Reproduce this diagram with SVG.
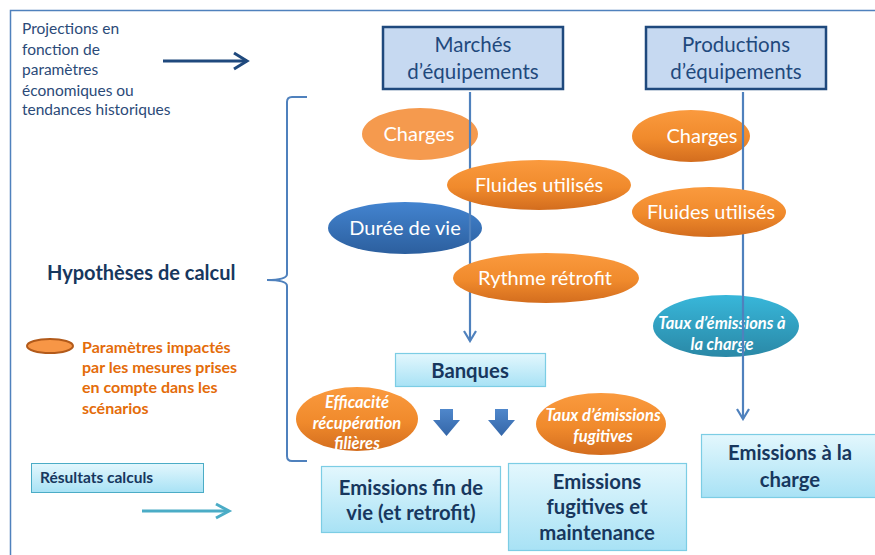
<svg xmlns="http://www.w3.org/2000/svg" width="875" height="555" viewBox="0 0 875 555">
<defs>
<linearGradient id="gOr" x1="0" y1="0" x2="0" y2="1"><stop offset="0" stop-color="#fa9a3e"/><stop offset="0.55" stop-color="#f08a2c"/><stop offset="1" stop-color="#d36d1e"/></linearGradient>
<linearGradient id="gBl" x1="0" y1="0" x2="0" y2="1"><stop offset="0" stop-color="#4384d0"/><stop offset="1" stop-color="#2c5f9e"/></linearGradient>
<linearGradient id="gTe" x1="0" y1="0" x2="0" y2="1"><stop offset="0" stop-color="#38b7da"/><stop offset="1" stop-color="#2a88a6"/></linearGradient>
<linearGradient id="gBox" x1="0" y1="0" x2="0" y2="1"><stop offset="0" stop-color="#e3f7fd"/><stop offset="1" stop-color="#a8e2f5"/></linearGradient>
<linearGradient id="gArr" x1="0" y1="0" x2="0" y2="1"><stop offset="0" stop-color="#4f87cb"/><stop offset="1" stop-color="#3466a8"/></linearGradient>
<marker id="vArr" viewBox="0 0 14 14" refX="12" refY="7" markerWidth="14" markerHeight="14" markerUnits="userSpaceOnUse" orient="auto">
<path d="M2,1 L12,7 L2,13" fill="none" stroke="#4f81bd" stroke-width="2.2"/>
</marker>
</defs>
<style>
text{font-family:Lato,"Liberation Sans",sans-serif}
.proj{font-size:15.5px;fill:#2b4a78}
.hd{fill:#c6d9f1;stroke:#1f497d;stroke-width:2.5}
.hdt{font-size:20.5px;fill:#1f497d;text-anchor:middle}
.ew{fill:#fff;font-size:20px;text-anchor:middle}
.ei{fill:#fff;font-size:16.5px;font-weight:bold;font-style:italic;text-anchor:middle}
.res{fill:url(#gBox);stroke:#7ccde4;stroke-width:1.2}
.rt{fill:#17375e;font-size:20.3px;font-weight:bold;text-anchor:middle}
.conn{fill:none;stroke:#4f81bd;stroke-width:2.2}
.leg{fill:#e46c0a;font-size:16px;font-weight:bold}
</style>
<rect x="0" y="0" width="875" height="555" fill="#fff"/>
<path d="M10.5,555 L10.5,10.5 L875,10.5" fill="none" stroke="#4f81bd" stroke-width="1.5"/>

<g id="projections">
<text class="proj" x="22" y="34">Projections en</text>
<text class="proj" x="22" y="55">fonction de</text>
<text class="proj" x="22" y="75">paramètres</text>
<text class="proj" x="22" y="96">économiques ou</text>
<text class="proj" x="22" y="115">tendances historiques</text>
</g>

<g id="marches">
<rect class="hd" x="383" y="27" width="180" height="62"/>
<text class="hdt" x="473" y="52">Marchés</text>
<text class="hdt" x="473" y="79">d’équipements</text>
</g>
<g id="productions">
<rect class="hd" x="646" y="27" width="180" height="62"/>
<text class="hdt" x="736" y="52">Productions</text>
<text class="hdt" x="736" y="79">d’équipements</text>
</g>

<g id="charges1"><ellipse cx="420" cy="134" rx="58" ry="26" fill="#f59a4e"/><text class="ew" x="419" y="141">Charges</text></g>
<g id="duree"><ellipse cx="405" cy="228" rx="77" ry="26" fill="url(#gBl)"/><text class="ew" x="405" y="235">Durée de vie</text></g>
<g id="charges2"><ellipse cx="691" cy="136" rx="59" ry="26" fill="url(#gOr)"/><text class="ew" x="702" y="143">Charges</text></g>
<g id="taux-charge"><ellipse cx="726" cy="326" rx="73" ry="31" fill="url(#gTe)"/><text class="ei" x="722" y="329">Taux d’émissions à</text><text class="ei" x="722" y="350">la charge</text></g>

<g id="connectors">
<path class="conn" d="M470,92 L470,341" marker-end="url(#vArr)"/>
<path class="conn" d="M743,92 L743,419" marker-end="url(#vArr)"/>
<path d="M163,61 L247,61" fill="none" stroke="#1f497d" stroke-width="3"/>
<path d="M234,53 L247,61 L234,69" fill="none" stroke="#1f497d" stroke-width="3"/>
<path d="M142,511 L228,511" fill="none" stroke="#4bacc6" stroke-width="3"/>
<path d="M216,504 L229,511 L216,518" fill="none" stroke="#4bacc6" stroke-width="3"/>
<path d="M440,409 L453,409 L453,420 L460,420 L446.5,436 L433,420 L440,420 Z" fill="url(#gArr)"/>
<path d="M495,409 L508,409 L508,420 L515,420 L501.5,436 L488,420 L495,420 Z" fill="url(#gArr)"/>
<path d="M307,97 L292,97 Q287,97 287,102 L287,274 Q287,280 267,280 Q287,280 287,286 L287,456 Q287,461 292,461 L307,461" fill="none" stroke="#4f81bd" stroke-width="2"/>
</g>

<g id="fluides1"><ellipse cx="539" cy="185" rx="92" ry="25" fill="url(#gOr)"/><text class="ew" x="539" y="192">Fluides utilisés</text></g>
<g id="rythme"><ellipse cx="546" cy="278" rx="93" ry="25" fill="url(#gOr)"/><text class="ew" x="545" y="285">Rythme rétrofit</text></g>
<g id="fluides2"><ellipse cx="709" cy="212" rx="77" ry="25" fill="url(#gOr)"/><text class="ew" x="711" y="219">Fluides utilisés</text></g>

<g id="hypotheses"><text x="47" y="280" fill="#17375e" font-size="20" font-weight="bold">Hypothèses de calcul</text></g>

<g id="legende">
<ellipse cx="50" cy="346" rx="23" ry="7" fill="#f79646" stroke="#b25a1a" stroke-width="2"/>
<text class="leg" x="82" y="352.5">Paramètres impactés</text>
<text class="leg" x="82" y="373">par les mesures prises</text>
<text class="leg" x="82" y="393">en compte dans les</text>
<text class="leg" x="82" y="414">scénarios</text>
</g>

<g id="resultats">
<rect x="31.5" y="463.5" width="172" height="29" fill="url(#gBox)" stroke="#4bacc6" stroke-width="1"/>
<text x="40" y="483" fill="#17375e" font-size="15.5" font-weight="bold">Résultats calculs</text>
</g>

<g id="banques"><rect class="res" x="395.5" y="353.5" width="150" height="33"/><text class="rt" x="470" y="378">Banques</text></g>

<g id="efficacite"><ellipse cx="357" cy="419" rx="61" ry="32" fill="url(#gOr)"/>
<text class="ei" x="357" y="408">Efficacité</text><text class="ei" x="357" y="429">récupération</text><text class="ei" x="357" y="449">filières</text></g>

<g id="taux-fugitives"><ellipse cx="601" cy="424" rx="65" ry="31" fill="url(#gOr)"/>
<text class="ei" x="603" y="421">Taux d’émissions</text><text class="ei" x="603" y="442">fugitives</text></g>

<g id="fin-de-vie"><rect class="res" x="321.5" y="466.5" width="179" height="66"/><text class="rt" x="411" y="495">Emissions fin de</text><text class="rt" x="411" y="520">vie (et retrofit)</text></g>
<g id="fugitives"><rect class="res" x="508.5" y="463.5" width="178" height="87"/><text class="rt" x="597" y="489">Emissions</text><text class="rt" x="597" y="514">fugitives et</text><text class="rt" x="597" y="540">maintenance</text></g>
<g id="charge-res"><rect class="res" x="701.5" y="434.5" width="180" height="63"/><text class="rt" x="790" y="460">Emissions à la</text><text class="rt" x="790" y="487">charge</text></g>
</svg>
